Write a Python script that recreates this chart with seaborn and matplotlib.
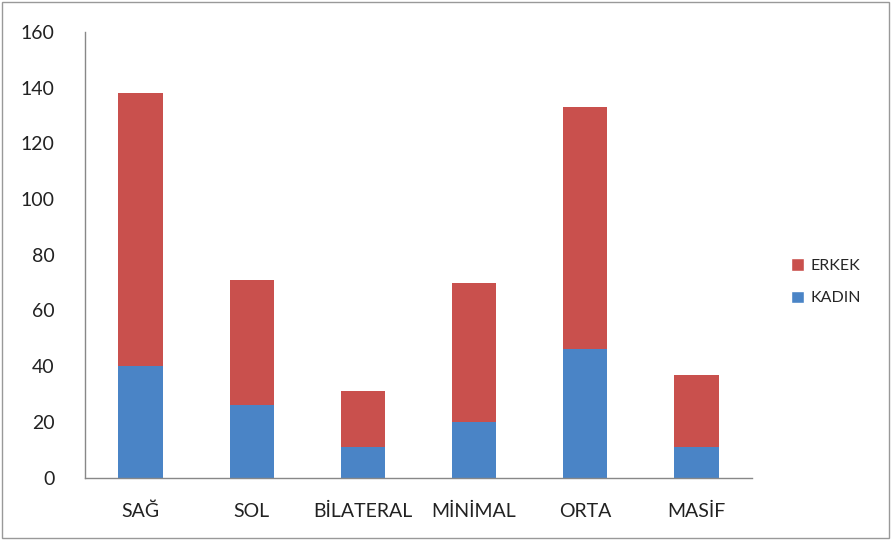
import matplotlib
matplotlib.use("Agg")
import matplotlib.pyplot as plt
from matplotlib.patches import Rectangle, Patch
import seaborn as sns
import pandas as pd
import numpy as np

categories = ["SAĞ", "SOL", "BİLATERAL", "MİNİMAL", "ORTA", "MASİF"]
kadin = [40, 26, 11, 20, 46, 11]
erkek = [98, 45, 20, 50, 87, 26]
yticks = [0, 20, 40, 60, 80, 100, 120, 140, 160]

red = "#C9504D"
blue = "#4A84C6"

sns.set_theme(style="white")
plt.rcParams["font.family"] = ["Lato", "DejaVu Sans"]

df = pd.DataFrame({"cat": categories, "KADIN": kadin, "ERKEK": erkek})
df["TOTAL"] = df["KADIN"] + df["ERKEK"]

fig = plt.figure(figsize=(8.91, 5.4), dpi=100)
ax = fig.add_axes([0.0954, 0.1156, 0.7486, 0.8251])

sns.barplot(data=df, x="cat", y="TOTAL", color=red, saturation=1, width=0.4,
            linewidth=0, edgecolor="none", ax=ax)
sns.barplot(data=df, x="cat", y="KADIN", color=blue, saturation=1, width=0.4,
            linewidth=0, edgecolor="none", ax=ax)

ax.set_ylim(0, 160)
ax.set_xlim(-0.5, len(categories) - 0.5)
ax.set_yticks(yticks)
ax.set_xlabel("")
ax.set_ylabel("")
ax.tick_params(axis="y", length=0, labelsize=14, pad=22, colors="#222222")
ax.tick_params(axis="x", which="major", length=0, labelsize=14, pad=18, colors="#222222")
ax.set_xticks(np.arange(-0.5, len(categories), 1.0), minor=True)
ax.tick_params(axis="x", which="minor", length=5, width=0.8, color="#888888", direction="out")
for s in ["top", "right"]:
    ax.spines[s].set_visible(False)
for s in ["left", "bottom"]:
    ax.spines[s].set_color("#888888")
    ax.spines[s].set_linewidth(1)

handles = [Patch(facecolor=red, label="ERKEK"), Patch(facecolor=blue, label="KADIN")]
fig.legend(handles=handles, loc="center left", bbox_to_anchor=(0.872, 0.478),
           frameon=False, fontsize=11.5, handlelength=0.8, handleheight=0.8,
           handletextpad=0.4, labelspacing=1.1)

fig.patches.append(Rectangle((0.002, 0.003), 0.996, 0.994, transform=fig.transFigure,
                             fill=False, edgecolor="#999999", linewidth=1))

fig.savefig("out.png", dpi=100)
